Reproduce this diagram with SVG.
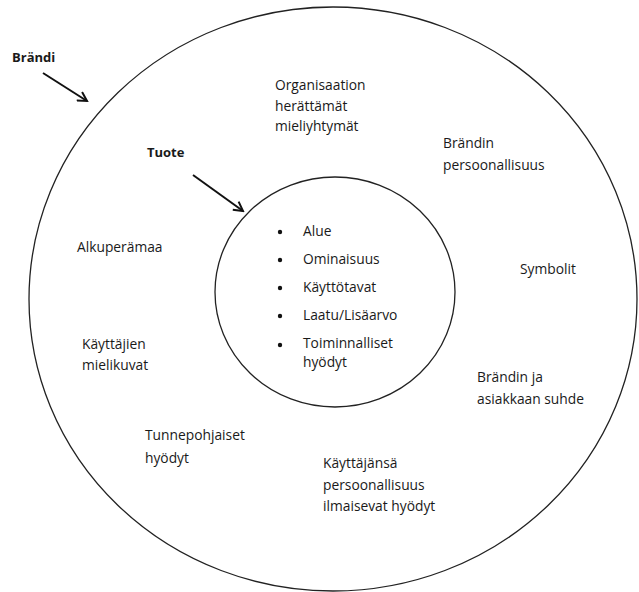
<svg xmlns="http://www.w3.org/2000/svg" width="639" height="592" viewBox="0 0 639 592">
<style>
text{font-family:"Open Sans","Noto Sans","Liberation Sans",sans-serif;font-size:13.8px;fill:#1a1a1a}
.b{font-weight:bold;font-size:13px}
.ring{fill:none;stroke:#222;stroke-width:1.3}
.arr{fill:none;stroke:#111;stroke-width:2}
</style>
<defs>
<marker id="ah" markerWidth="12" markerHeight="12" refX="10" refY="6" orient="auto" markerUnits="userSpaceOnUse">
<path d="M1,1 L10,6 L1,11" fill="none" stroke="#111" stroke-width="2"/>
</marker>
</defs>
<rect width="639" height="592" fill="#fff"/>
<g id="brandi">
<ellipse class="ring" cx="333" cy="299" rx="304" ry="292"/>
<text class="b" x="12" y="62">Brändi</text>
<text x="275" y="90">Organisaation</text>
<text x="275" y="111">herättämät</text>
<text x="275" y="131">mieliyhtymät</text>
<text x="443" y="148">Brändin</text>
<text x="443" y="170">persoonallisuus</text>
<text x="77" y="252">Alkuperämaa</text>
<text x="520" y="274">Symbolit</text>
<text x="82" y="349">Käyttäjien</text>
<text x="82" y="370">mielikuvat</text>
<text x="477" y="382">Brändin ja</text>
<text x="477" y="404">asiakkaan suhde</text>
<text x="145" y="440">Tunnepohjaiset</text>
<text x="145" y="463">hyödyt</text>
<text x="323" y="468">Käyttäjänsä</text>
<text x="323" y="490">persoonallisuus</text>
<text x="323" y="511">ilmaisevat hyödyt</text>
</g>
<g id="tuote">
<ellipse class="ring" cx="335" cy="292" rx="120" ry="115"/>
<text class="b" x="147" y="157">Tuote</text>
<g fill="#111">
<circle cx="280" cy="232" r="2.2"/>
<circle cx="280" cy="260" r="2.2"/>
<circle cx="280" cy="288" r="2.2"/>
<circle cx="280" cy="316" r="2.2"/>
<circle cx="280" cy="345" r="2.2"/>
</g>
<text x="303" y="236">Alue</text>
<text x="303" y="264">Ominaisuus</text>
<text x="303" y="292">Käyttötavat</text>
<text x="303" y="320">Laatu/Lisäarvo</text>
<text x="303" y="348">Toiminnalliset</text>
<text x="303" y="367">hyödyt</text>
</g>
<g id="connectors">
<line class="arr" x1="43" y1="73" x2="87" y2="101" marker-end="url(#ah)"/>
<line class="arr" x1="193" y1="175" x2="243" y2="211" marker-end="url(#ah)"/>
</g>
</svg>
